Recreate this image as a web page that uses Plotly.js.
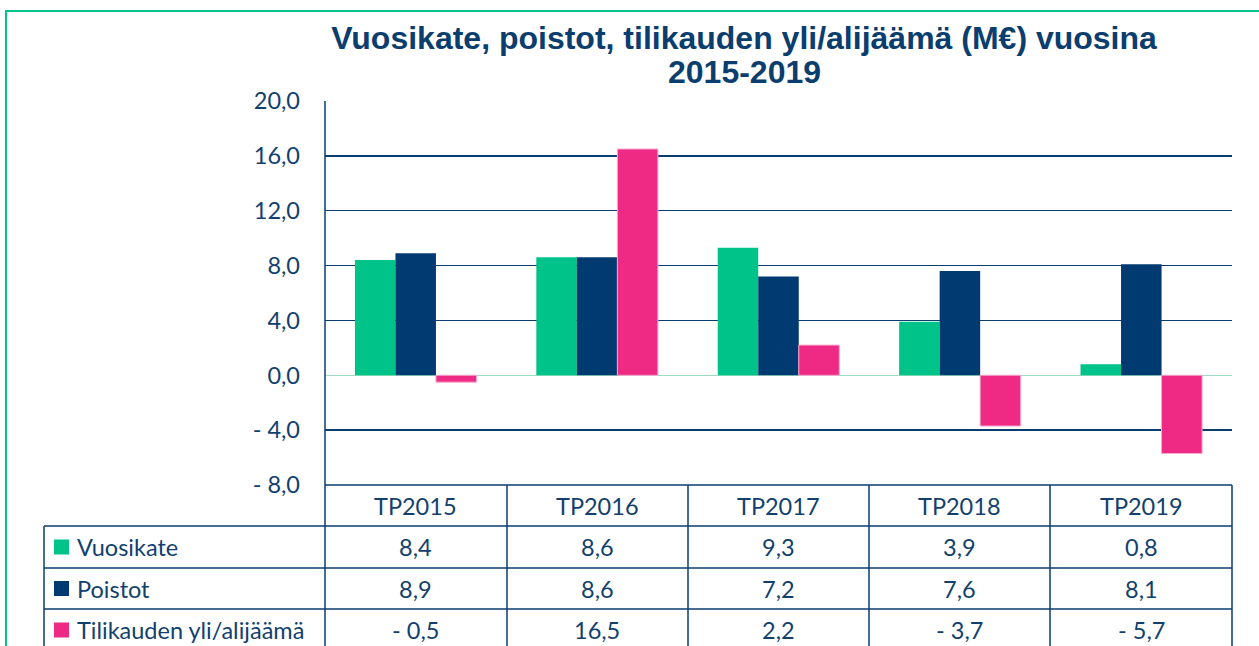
<!DOCTYPE html>
<html>
<head>
<meta charset="utf-8">
<script src="https://cdn.plot.ly/plotly-3.0.1.min.js"></script>
<style>html,body{margin:0;padding:0;background:#fff;}#chart{width:1259px;height:646px;}</style>
</head>
<body>
<div id="chart"></div>
<script>
const categories = ['TP2015', 'TP2016', 'TP2017', 'TP2018', 'TP2019'];
const seriesNames = ['Vuosikate', 'Poistot', 'Tilikauden yli/alijäämä'];
const vuosikate = [8.4, 8.6, 9.3, 3.9, 0.8];
const poistot = [8.9, 8.6, 7.2, 7.6, 8.1];
const ylijaama = [-0.5, 16.5, 2.2, -3.7, -5.7];
const tickValues = [-8, -4, 0, 4, 8, 12, 16, 20];
const titleLines = ['Vuosikate, poistot, tilikauden yli/alijäämä (M€) vuosina', '2015-2019'];
const colors = ['#00C389', '#003A70', '#EE2A84'];

const W = 1259, H = 646;
const L = 325, R = 27, T = 101, B = 161;
const PW = W - L - R, PH = H - T - B;
const px = x => (x - L) / PW;
const py = y => (H - B - y) / PH;
const fmt = v => (v < 0 ? '- ' : '') + Math.abs(v).toFixed(1).replace('.', ',');
const navy = '#0B3D6E';
const textFont = {family: 'Lato, "Noto Sans", sans-serif', size: 23.5, color: '#123F6E'};
const titleFont = {family: '"Liberation Sans", Arial, sans-serif', size: 32, color: '#0B3D6E', weight: 'bold'};

const seriesData = [vuosikate, poistot, ylijaama];
const traces = seriesData.map((vals, i) => ({
  type: 'bar', name: seriesNames[i], x: categories, y: vals,
  marker: {color: colors[i], line: {width: i === 2 ? 1 : 0, color: '#F7A8CC'}},
  hoverinfo: 'x+y'
}));

const shapes = [];
const annotations = [];
const line = (x0, y0, x1, y1, color, w) => shapes.push({type: 'line', xref: 'paper', yref: 'paper',
  x0: px(x0), y0: py(y0), x1: px(x1), y1: py(y1), line: {color: color || navy, width: w || 1.5}});

// Outer green frame
shapes.push({type: 'rect', xref: 'paper', yref: 'paper', x0: px(6), y0: py(11), x1: px(1275), y1: py(670),
  line: {color: '#00C389', width: 2}, fillcolor: 'rgba(0,0,0,0)'});

// Title second line
annotations.push({xref: 'paper', yref: 'paper', x: px(744), y: py(72), text: '<b>' + titleLines[1] + '</b>',
  showarrow: false, font: titleFont, xanchor: 'center', yanchor: 'middle'});

// Table geometry
const colX = [325, 507, 688, 869, 1050, 1232];
const rowY = [485, 526, 568, 609, 651];
line(325, 101, 325, 660);
line(325, rowY[0], 1232, rowY[0]);
for (let r = 1; r < rowY.length; r++) line(44, rowY[r], 1232, rowY[r]);
line(44, rowY[1], 44, 660);
for (let c = 1; c < colX.length; c++) line(colX[c], rowY[0], colX[c], 660);

// header
categories.forEach((c, i) => {
  annotations.push({xref: 'x', yref: 'paper', x: c, y: py((rowY[0] + rowY[1]) / 2), text: c,
    showarrow: false, font: textFont, xanchor: 'center', yanchor: 'middle'});
});
// rows
seriesData.forEach((vals, r) => {
  const yc = (rowY[r + 1] + rowY[r + 2]) / 2;
  shapes.push({type: 'rect', xref: 'paper', yref: 'paper', x0: px(54), x1: px(69), y0: py(yc - 7.5), y1: py(yc + 7.5),
    line: {width: 0}, fillcolor: colors[r]});
  annotations.push({xref: 'paper', yref: 'paper', x: px(75), y: py(yc), text: seriesNames[r],
    showarrow: false, font: textFont, xanchor: 'left', yanchor: 'middle'});
  vals.forEach((v, i) => {
    annotations.push({xref: 'x', yref: 'paper', x: categories[i], y: py(yc), text: fmt(v),
      showarrow: false, font: textFont, xanchor: 'center', yanchor: 'middle'});
  });
});

const layout = {
  width: W, height: H,
  margin: {l: L, r: R, t: T, b: B, pad: 0},
  paper_bgcolor: '#fff', plot_bgcolor: '#fff',
  showlegend: false,
  barmode: 'group', bargap: 0.33, bargroupgap: 0,
  title: {text: '<b>' + titleLines[0] + '</b>', font: titleFont,
    xref: 'container', x: 744 / W, xanchor: 'center', yref: 'container', y: 1 - 38 / H, yanchor: 'middle'},
  xaxis: {type: 'category', showticklabels: false, showgrid: false, zeroline: false, showline: false,
    ticks: '', fixedrange: true},
  yaxis: {range: [-8, 20], tickvals: tickValues, ticktext: tickValues.map(fmt), showgrid: true,
    gridcolor: navy, gridwidth: 1.5, zeroline: true, zerolinecolor: '#9FDCC2', zerolinewidth: 1.5,
    showline: false, ticks: '', ticklabelstandoff: 24, tickfont: textFont, fixedrange: true},
  shapes: shapes,
  annotations: annotations
};
Plotly.newPlot('chart', traces, layout, {displayModeBar: false, staticPlot: true});
</script>
</body>
</html>
